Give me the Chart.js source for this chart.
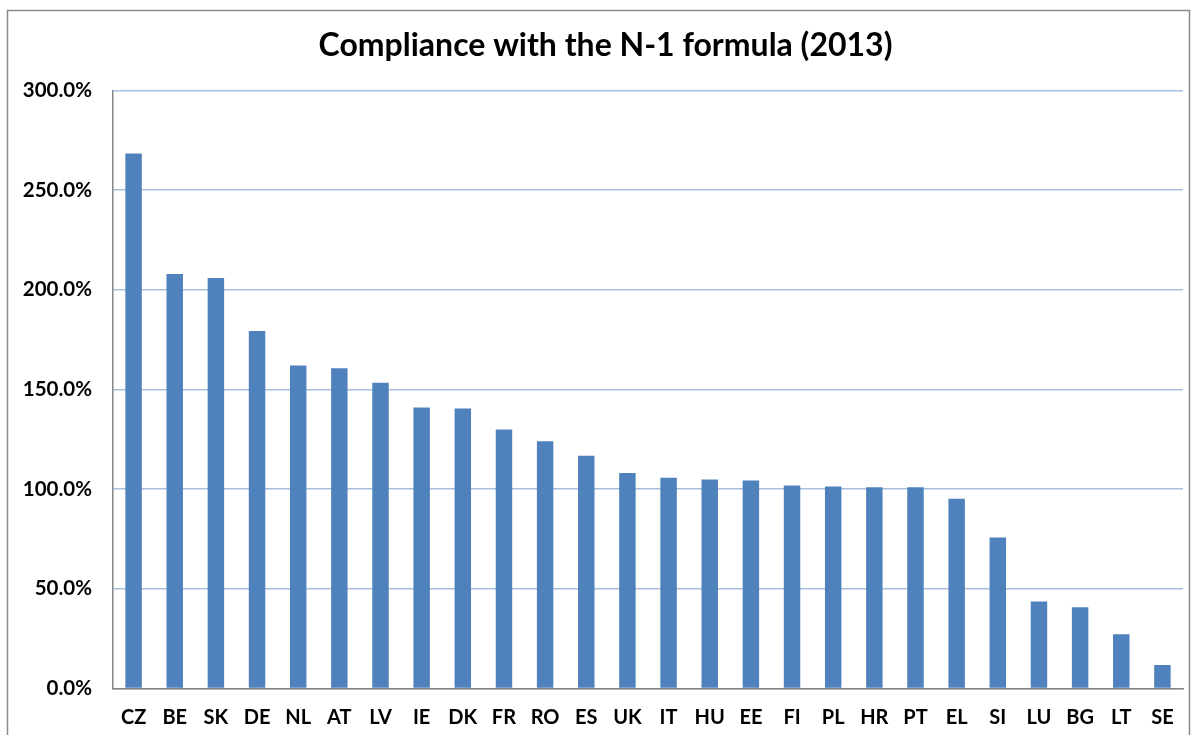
<!DOCTYPE html>
<html>
<head>
<meta charset="utf-8">
<script src="https://cdn.jsdelivr.net/npm/chart.js@4.4.1/dist/chart.umd.min.js"></script>
<style>
  html, body { margin: 0; padding: 0; background: #fff; overflow: hidden; }
  #wrap { position: absolute; left: 0; top: 0; width: 1193px; height: 735px; }
</style>
</head>
<body>
<div id="wrap"><canvas id="c" width="1193" height="735"></canvas></div>
<script>
const titleText = 'Compliance with the N-1 formula (2013)';
const categories = ['CZ','BE','SK','DE','NL','AT','LV','IE','DK','FR','RO','ES','UK','IT','HU','EE','FI','PL','HR','PT','EL','SI','LU','BG','LT','SE'];
const compliance = [268.4, 207.9, 205.9, 179.4, 162.1, 160.6, 153.4, 141.0, 140.5, 129.9, 124.0, 116.8, 108.1, 105.7, 104.9, 104.4, 101.9, 101.4, 100.9, 100.9, 95.2, 75.8, 43.7, 40.7, 27.2, 11.8];
const yTicks = [0, 50, 100, 150, 200, 250, 300];

const FONT = 'Lato, "Open Sans", "Liberation Sans", sans-serif';

const borderPlugin = {
  id: 'outerBorder',
  afterLayout(chart) {
    if (chart.titleBlock) { chart.titleBlock.left += 20; }
  },
  beforeDraw(chart) {
    const ctx = chart.ctx;
    ctx.save();
    ctx.fillStyle = '#ffffff';
    ctx.fillRect(0, 0, chart.width, chart.height);
    ctx.strokeStyle = '#8a8a8a';
    ctx.lineWidth = 1.5;
    ctx.strokeRect(7.5, 10.5, 1182, 740);
    ctx.restore();
  }
};

new Chart(document.getElementById('c'), {
  type: 'bar',
  data: {
    labels: categories,
    datasets: [{
      label: 'Compliance',
      data: compliance,
      backgroundColor: '#4F81BD',
      borderWidth: 0,
      categoryPercentage: 1.0,
      barPercentage: 0.4
    }]
  },
  options: {
    responsive: false,
    animation: false,
    devicePixelRatio: 1,
    layout: { padding: { left: 8, right: 10, top: 0, bottom: 0 } },
    plugins: {
      legend: { display: false },
      tooltip: { enabled: false },
      title: {
        display: true,
        text: titleText,
        color: '#000',
        font: { family: FONT, size: 32, weight: 'bold' },
        padding: { top: 26.4, bottom: 25.7 }
      }
    },
    scales: {
      x: {
        grid: { display: false, drawTicks: false },
        border: { display: true, color: '#868686', width: 1.5 },
        ticks: {
          color: '#000',
          font: { family: FONT, size: 20, weight: 'bold' },
          padding: 17,
          maxRotation: 0,
          autoSkip: false
        },
        afterFit(s) { s.height = 46.5; }
      },
      y: {
        min: 0,
        max: 300,
        afterBuildTicks(s) { s.ticks = yTicks.map(v => ({ value: v })); },
        grid: { color: '#A7BFDE', lineWidth: 1.5, drawTicks: false },
        border: { display: true, color: '#868686', width: 1.5 },
        ticks: {
          color: '#000',
          font: { family: FONT, size: 20.5, weight: 'bold' },
          padding: 21,
          callback: v => v.toFixed(1) + '%'
        },
        afterFit(s) { s.width = 105; }
      }
    }
  },
  plugins: [borderPlugin]
});
</script>
</body>
</html>
